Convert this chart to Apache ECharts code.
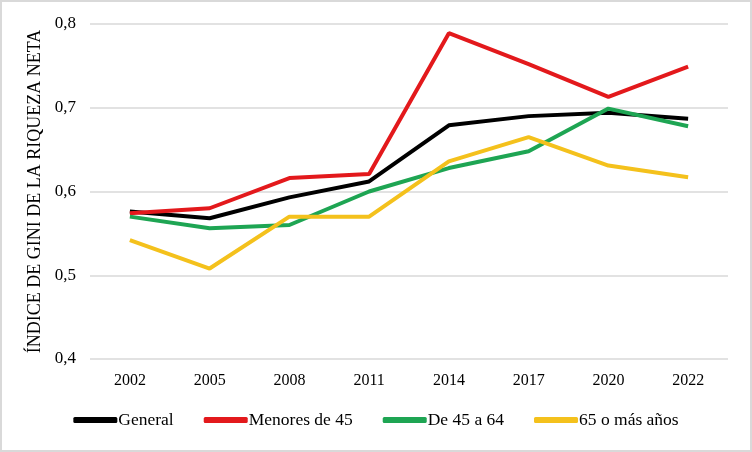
<!DOCTYPE html>
<html>
<head>
<meta charset="utf-8">
<script src="https://cdn.jsdelivr.net/npm/echarts@6/dist/echarts.min.js"></script>
<style>
  html, body { margin: 0; padding: 0; background: #fff; }
  #chart { width: 752px; height: 452px; box-sizing: border-box; border: 2px solid #d9d9d9; }
</style>
</head>
<body>
<div id="chart"></div>
<script>
const years = ['2002', '2005', '2008', '2011', '2014', '2017', '2020', '2022'];
const general = [0.576, 0.568, 0.593, 0.612, 0.679, 0.690, 0.694, 0.687];
const menores45 = [0.574, 0.580, 0.616, 0.621, 0.789, 0.752, 0.713, 0.749];
const de45a64 = [0.570, 0.556, 0.560, 0.600, 0.628, 0.648, 0.699, 0.678];
const mayores65 = [0.542, 0.508, 0.570, 0.570, 0.636, 0.665, 0.631, 0.617];

const font = 'Liberation Serif, DejaVu Serif, serif';

const chart = echarts.init(document.getElementById('chart'));

function line(name, data, color) {
    return {
        name: name,
        type: 'line',
        data: data,
        symbol: 'none',
        lineStyle: { width: 4, color: color },
        itemStyle: { color: color }
    };
}

chart.setOption({
    animation: false,
    textStyle: { fontFamily: font },
    grid: { left: 88, right: 22, top: 22, bottom: 91 },
    legend: {
        bottom: 16,
        left: 'center',
        icon: 'roundRect',
        itemWidth: 44,
        itemHeight: 6,
        itemGap: 30,
        textStyle: { fontFamily: font, fontSize: 17.5, color: '#000', padding: [0, 0, 0, -4] },
        data: ['General', 'Menores de 45', 'De 45 a 64', '65 o más años']
    },
    xAxis: {
        type: 'category',
        data: years,
        axisLine: { show: false },
        axisTick: { show: false },
        axisLabel: { color: '#000', fontSize: 16, margin: 14 }
    },
    yAxis: {
        type: 'value',
        min: 0.4,
        max: 0.8,
        interval: 0.1,
        name: 'ÍNDICE DE GINI DE LA RIQUEZA NETA',
        nameLocation: 'middle',
        nameGap: 43,
        nameTextStyle: { color: '#000', fontSize: 18 },
        axisLabel: {
            color: '#000',
            fontSize: 17,
            margin: 14,
            formatter: v => v.toFixed(1).replace('.', ',')
        },
        splitLine: { lineStyle: { color: '#d9d9d9', width: 1.5 } }
    },
    series: [
        line('General', general, '#000000'),
        line('Menores de 45', menores45, '#e3191c'),
        line('De 45 a 64', de45a64, '#1ea553'),
        line('65 o más años', mayores65, '#f4c11c')
    ]
});
</script>
</body>
</html>
